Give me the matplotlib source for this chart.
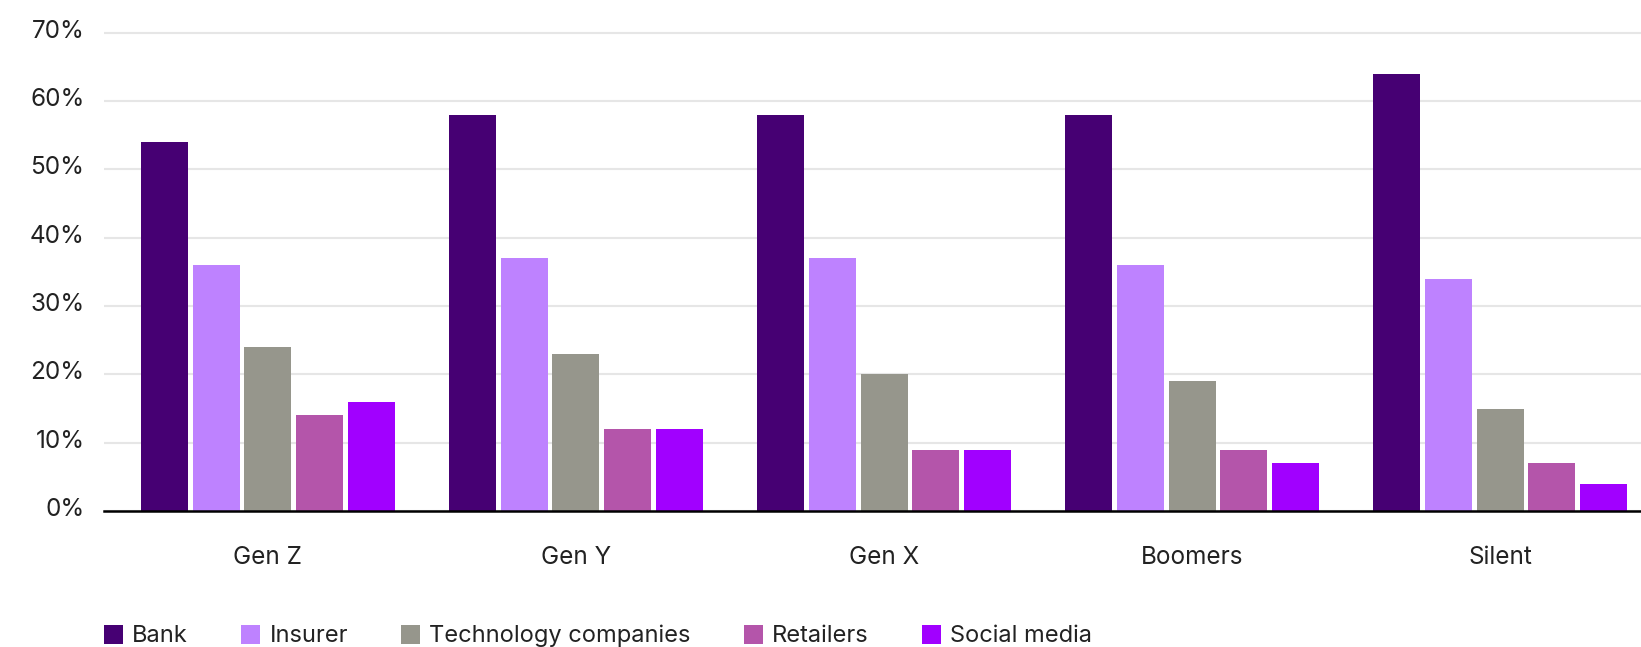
import numpy as np
import matplotlib
matplotlib.use("Agg")
import matplotlib.pyplot as plt
from matplotlib.patches import Patch
from matplotlib.transforms import ScaledTranslation

generations = ["Gen Z", "Gen Y", "Gen X", "Boomers", "Silent"]
series = ["Bank", "Insurer", "Technology companies", "Retailers", "Social media"]
bank = [54, 58, 58, 58, 64]
insurer = [36, 37, 37, 36, 34]
technology = [24, 23, 20, 19, 15]
retailers = [14, 12, 9, 9, 7]
social_media = [16, 12, 9, 7, 4]
values = [bank, insurer, technology, retailers, social_media]
colors = ["#460073", "#BE82FF", "#96968C", "#B455AA", "#A100FF"]
yticks = [0, 10, 20, 30, 40, 50, 60, 70]

plt.rcParams["font.family"] = ["Inter", "DejaVu Sans"]

W, H = 1641, 647
fig = plt.figure(figsize=(W / 100, H / 100), dpi=100)
ax = fig.add_axes([104 / W, 1 - 511 / H, 1 - 104 / W, 491.8 / H])

x = np.arange(len(generations))
step = 0.1678
width = 0.1526
for i, (vals, col) in enumerate(zip(values, colors)):
    ax.bar(x + (i - 2) * step, vals, width=width, color=col, zorder=3)

ax.set_xlim(-0.532, 4.457)
ax.set_ylim(0, 72)
ax.set_yticks(yticks)
ax.set_yticklabels([f"{t}%" for t in yticks])
ax.set_xticks(x)
ax.set_xticklabels(generations)
ax.tick_params(axis="y", length=0, pad=14, labelsize=17.5, labelcolor="#222222")
ax.tick_params(axis="x", length=0, pad=25, labelsize=17.5, labelcolor="#222222")
# labels sit a little above their grid lines in the original
for lbl in ax.get_yticklabels():
    lbl.set_transform(lbl.get_transform() + ScaledTranslation(0, 4 / 100, fig.dpi_scale_trans))
ax.grid(axis="y", color="#e6e6e6", linewidth=1.5, zorder=0)
for s in ["top", "right", "left"]:
    ax.spines[s].set_visible(False)
ax.spines["bottom"].set_color("black")
ax.spines["bottom"].set_linewidth(1.8)
ax.spines["bottom"].set_zorder(4)

handles = [Patch(facecolor=c, edgecolor="none") for c in colors]
fig.legend(handles, series, loc="center left", bbox_to_anchor=(104 / W, 1 - 636 / H),
           ncol=5, frameon=False, fontsize=17, borderpad=0, borderaxespad=0,
           handlelength=0.8, handleheight=0.9, handletextpad=0.4, columnspacing=2.25,
           labelcolor="#222222")

fig.savefig("out.png", dpi=100)
